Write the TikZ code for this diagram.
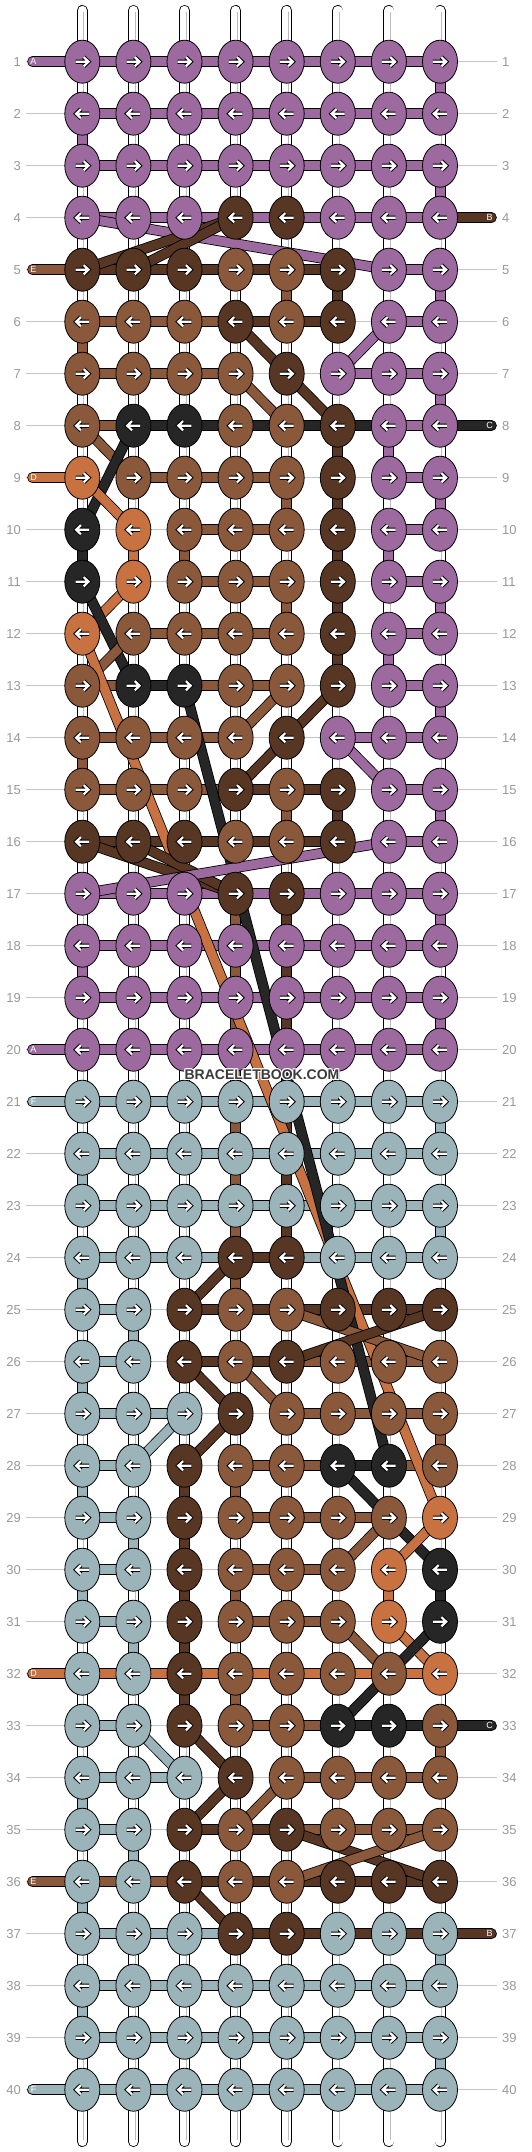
\documentclass[tikz,border=0pt]{standalone}
\usepackage{fontspec}
\setmainfont{Liberation Sans}
\usetikzlibrary{shapes.geometric}
\definecolor{cP}{HTML}{9D6AA0}
\definecolor{cD}{HTML}{583624}
\definecolor{cM}{HTML}{8A583B}
\definecolor{cO}{HTML}{C87242}
\definecolor{cK}{HTML}{262626}
\definecolor{cG}{HTML}{9BB4BA}
\definecolor{lblg}{HTML}{999999}
\definecolor{lineg}{HTML}{C4C4C4}
\definecolor{wmc}{HTML}{3A3A3A}
\definecolor{strandc}{HTML}{BBBBBB}
\tikzset{
  knot/.style={ellipse, draw=black, line width=0.8pt, minimum width=35pt, minimum height=43pt, inner sep=0pt, outer sep=0pt},
  bar/.style={draw=black, line width=0.8pt, double=#1, double distance=9pt},
  rowline/.style={draw=lineg, line width=0.9pt},
  numlbl/.style={text=lblg, font=\fontsize{13}{13}\selectfont, inner sep=0pt},
  endlbl/.style={text=white, font=\fontsize{9}{9}\selectfont, inner sep=0pt},
  wmark/.style={font=\bfseries\fontsize{14}{14}\selectfont, inner sep=0pt},
  rarr/.pic={
    \draw[black, line width=4.2pt, line join=miter] (-6.8,0) -- (5.8,0) (1.4,-4.6) -- (6.2,0) -- (1.4,4.6);
    \draw[white, line width=2.2pt, line join=miter] (-6.8,0) -- (5.8,0) (1.4,-4.6) -- (6.2,0) -- (1.4,4.6);
  },
  larr/.pic={
    \draw[black, line width=4.2pt, line join=miter] (6.8,0) -- (-5.8,0) (-1.4,-4.6) -- (-6.2,0) -- (-1.4,4.6);
    \draw[white, line width=2.2pt, line join=miter] (6.8,0) -- (-5.8,0) (-1.4,-4.6) -- (-6.2,0) -- (-1.4,4.6);
  },
}
\begin{document}
\begin{tikzpicture}[x=1pt, y=-1pt]
\useasboundingbox (0,0) rectangle (532,2152);
\fill[white] (0,0) rectangle (532,2152);
% grid coordinates, row lines, row numbers
\foreach \r in {1,...,40}{
  \foreach \c in {1,...,8}{
    \coordinate (k-\r-\c) at ({82.3+51.1*(\c-1)},{61.7+52*(\r-1)});
  }
  \coordinate (le-\r) at (32.5,{61.7+52*(\r-1)});
  \coordinate (re-\r) at (491.5,{61.7+52*(\r-1)});
  \coordinate (gl-\r) at (26,{61.7+52*(\r-1)});
  \coordinate (gr-\r) at (497,{61.7+52*(\r-1)});
  \draw[rowline] (gl-\r) -- (gr-\r);
  \node[numlbl, anchor=east] (nl-\r) at (21,{61.7+52*(\r-1)}) {\r};
  \node[numlbl, anchor=west] (nr-\r) at (502,{61.7+52*(\r-1)}) {\r};
}
% white base strands
\foreach \c in {1,...,8}{
  \coordinate (st-\c) at ({82.3+51.1*(\c-1)},10.5);
  \coordinate (sb-\c) at ({82.3+51.1*(\c-1)},2141.5);
  \coordinate (gt-\c) at ({83.8+51.1*(\c-1)},12);
  \coordinate (gb-\c) at ({83.8+51.1*(\c-1)},2140);
  \draw[line width=11pt, line cap=round, black] (st-\c) -- (sb-\c);
  \draw[line width=9.4pt, line cap=round, white] (st-\c) -- (sb-\c);
  \draw[line width=0.8pt, strandc] (gt-\c) -- (gb-\c);
}
% vertical carried strings
\foreach \r/\L in {
1/{W,W,W,W,W,W,W,P},
2/{P,W,W,W,W,W,W,W},
3/{W,W,W,W,W,W,W,P},
4/{W,W,W,W,W,W,W,W},
5/{W,W,W,W,M,D,W,P},
6/{M,W,W,W,W,W,W,W},
7/{W,W,W,W,W,W,W,P},
8/{W,W,W,W,W,D,P,W},
9/{W,W,W,W,M,D,W,P},
10/{K,O,M,W,W,D,P,W},
11/{W,W,W,W,M,D,W,P},
12/{W,W,W,W,W,D,P,W},
13/{W,W,W,W,W,W,W,P},
14/{M,W,W,W,W,W,W,W},
15/{W,W,W,W,M,D,W,P},
16/{W,W,W,W,W,W,W,W},
17/{W,W,W,M,D,W,W,P},
18/{P,W,W,M,D,W,W,W},
19/{W,W,W,M,D,W,W,P},
20/{W,W,W,M,D,W,W,W},
21/{W,W,W,M,D,W,W,G},
22/{G,W,W,M,D,W,W,W},
23/{W,W,W,M,D,W,W,G},
24/{G,W,W,M,W,W,W,W},
25/{W,G,W,W,W,W,W,W},
26/{G,W,W,W,W,W,W,W},
27/{W,W,W,W,W,W,W,M},
28/{G,W,D,M,W,W,W,W},
29/{W,G,D,W,W,W,W,W},
30/{G,W,D,M,W,W,O,K},
31/{W,G,D,W,W,W,W,W},
32/{W,W,D,M,W,W,W,W},
33/{W,W,W,W,W,W,W,M},
34/{G,W,W,W,W,W,W,W},
35/{W,G,W,W,W,W,W,W},
36/{G,W,W,W,W,W,W,W},
37/{W,W,W,W,W,W,W,G},
38/{G,W,W,W,W,W,W,W},
39/{W,W,W,W,W,W,W,G}}{
  \foreach \k [count=\c] in \L {
    \if W\k\else
      \pgfmathtruncatemacro\rn{\r+1}
      \draw[bar=c\k] (k-\r-\c) -- (k-\rn-\c);
    \fi
  }
}
% horizontal strings
\foreach \r/\L in {
1/{P,P,P,P,P,P,P},
2/{P,P,P,P,P,P,P},
3/{P,P,P,P,P,P,P},
4/{P,P,P,P,P,P,P},
5/{D,D,D,D,D,N,P},
6/{M,M,M,D,D,N,P},
7/{M,M,M,N,N,P,P},
8/{M,K,K,K,K,K,P},
9/{N,M,M,M,N,N,P},
10/{N,N,M,M,N,N,P},
11/{N,N,M,M,N,N,P},
12/{N,M,M,M,N,N,P},
13/{M,K,M,M,N,N,P},
14/{M,M,M,N,N,P,P},
15/{M,M,M,D,D,N,P},
16/{D,D,D,D,D,N,P},
17/{P,P,P,P,P,P,P},
18/{P,P,P,P,P,P,P},
19/{P,P,P,P,P,P,P},
20/{P,P,P,P,P,P,P},
21/{G,G,G,G,G,G,G},
22/{G,G,G,G,G,G,G},
23/{G,G,G,G,G,G,G},
24/{G,G,G,D,G,G,G},
25/{G,N,D,D,D,D,D},
26/{G,N,D,D,M,M,M},
27/{G,G,N,N,M,M,M},
28/{G,N,N,M,M,K,M},
29/{G,N,N,M,M,M,N},
30/{G,N,N,M,M,N,N},
31/{G,N,N,M,M,N,N},
32/{O,O,O,O,O,O,O},
33/{G,N,N,M,M,K,K},
34/{G,G,N,N,M,M,M},
35/{G,N,D,D,M,M,M},
36/{M,M,D,D,D,D,D},
37/{G,G,G,D,D,D,D},
38/{G,G,G,G,G,G,G},
39/{G,G,G,G,G,G,G},
40/{G,G,G,G,G,G,G}}{
  \foreach \k [count=\c] in \L {
    \if N\k\else
      \pgfmathtruncatemacro\cn{\c+1}
      \draw[bar=c\k] (k-\r-\c) -- (k-\r-\cn);
    \fi
  }
}
% string ends
\foreach \r/\k/\t in {1/P/A, 5/M/E, 9/O/D, 20/P/A, 21/G/F, 32/O/D, 36/M/E, 40/G/F}{
  \draw[bar=c\k, line cap=round] (le-\r) -- (k-\r-1);
  \node[endlbl] (tl-\r) at (33.5,{61.7+52*(\r-1)}) {\t};
}
\foreach \r/\k/\t in {4/D/B, 8/K/C, 33/K/C, 37/D/B}{
  \draw[bar=c\k, line cap=round] (k-\r-8) -- (re-\r);
  \node[endlbl] (tr-\r) at (489.5,{61.7+52*(\r-1)}) {\t};
}
% diagonal strings
\foreach \k/\ra/\ca/\rb/\cb in {
P/4/1/5/7, D/5/1/4/4, D/5/2/4/4, P/6/7/7/6, D/6/4/7/5, M/7/4/8/5, D/7/5/8/6,
M/8/1/9/2, K/8/2/10/1, O/9/1/10/2, O/11/2/12/1, K/11/1/13/2, M/13/1/12/2,
O/12/1/29/8, K/13/3/28/7, M/13/5/14/4, D/13/6/15/4, P/14/6/15/7,
D/16/1/17/4, D/16/2/17/4, P/17/1/16/7,
D/24/4/25/3, M/25/5/26/8, D/26/5/25/8, D/26/3/27/4, M/26/4/27/5,
G/27/3/28/2, D/27/4/28/3, K/28/6/30/8, M/30/6/29/7, O/29/8/30/7,
M/31/6/32/7, O/31/7/32/8, K/31/8/33/6, G/33/2/34/3, D/33/3/34/4,
D/34/4/35/3, M/34/5/35/4, D/35/5/36/8, M/36/5/35/8, D/36/3/37/4}{
  \draw[bar=c\k] (k-\ra-\ca) -- (k-\rb-\cb);
}
% knots
\foreach \r/\L in {
1/{P,P,P,P,P,P,P,P},
2/{P,P,P,P,P,P,P,P},
3/{P,P,P,P,P,P,P,P},
4/{P,P,P,D,D,P,P,P},
5/{D,D,D,M,M,D,P,P},
6/{M,M,M,D,M,D,P,P},
7/{M,M,M,M,D,P,P,P},
8/{M,K,K,M,M,D,P,P},
9/{O,M,M,M,M,D,P,P},
10/{K,O,M,M,M,D,P,P},
11/{K,O,M,M,M,D,P,P},
12/{O,M,M,M,M,D,P,P},
13/{M,K,K,M,M,D,P,P},
14/{M,M,M,M,D,P,P,P},
15/{M,M,M,D,M,D,P,P},
16/{D,D,D,M,M,D,P,P},
17/{P,P,P,D,D,P,P,P},
18/{P,P,P,P,P,P,P,P},
19/{P,P,P,P,P,P,P,P},
20/{P,P,P,P,P,P,P,P},
21/{G,G,G,G,G,G,G,G},
22/{G,G,G,G,G,G,G,G},
23/{G,G,G,G,G,G,G,G},
24/{G,G,G,D,D,G,G,G},
25/{G,G,D,M,M,D,D,D},
26/{G,G,D,M,D,M,M,M},
27/{G,G,G,D,M,M,M,M},
28/{G,G,D,M,M,K,K,M},
29/{G,G,D,M,M,M,M,O},
30/{G,G,D,M,M,M,O,K},
31/{G,G,D,M,M,M,O,K},
32/{G,G,D,M,M,M,M,O},
33/{G,G,D,M,M,K,K,M},
34/{G,G,G,D,M,M,M,M},
35/{G,G,D,M,D,M,M,M},
36/{G,G,D,M,M,D,D,D},
37/{G,G,G,D,D,G,G,G},
38/{G,G,G,G,G,G,G,G},
39/{G,G,G,G,G,G,G,G},
40/{G,G,G,G,G,G,G,G}}{
  \foreach \k [count=\c] in \L {
    \node[knot, fill=c\k] (n-\r-\c) at (k-\r-\c) {};
    \ifodd\r\relax
      \pic at (k-\r-\c) {rarr};
    \else
      \pic at (k-\r-\c) {larr};
    \fi
  }
}
% watermark
\foreach \dx/\dy [count=\i] in {-1/0,1/0,0/-1,0/1,-1/-1,1/1,-1/1,1/-1}{
  \node[wmark, text=white] (wmh-\i) at ({262+\dx},{1075+\dy}) {BRACELETBOOK.COM};
}
\node[wmark, text=wmc] (wm) at (262,1075) {BRACELETBOOK.COM};
\end{tikzpicture}
\end{document}
